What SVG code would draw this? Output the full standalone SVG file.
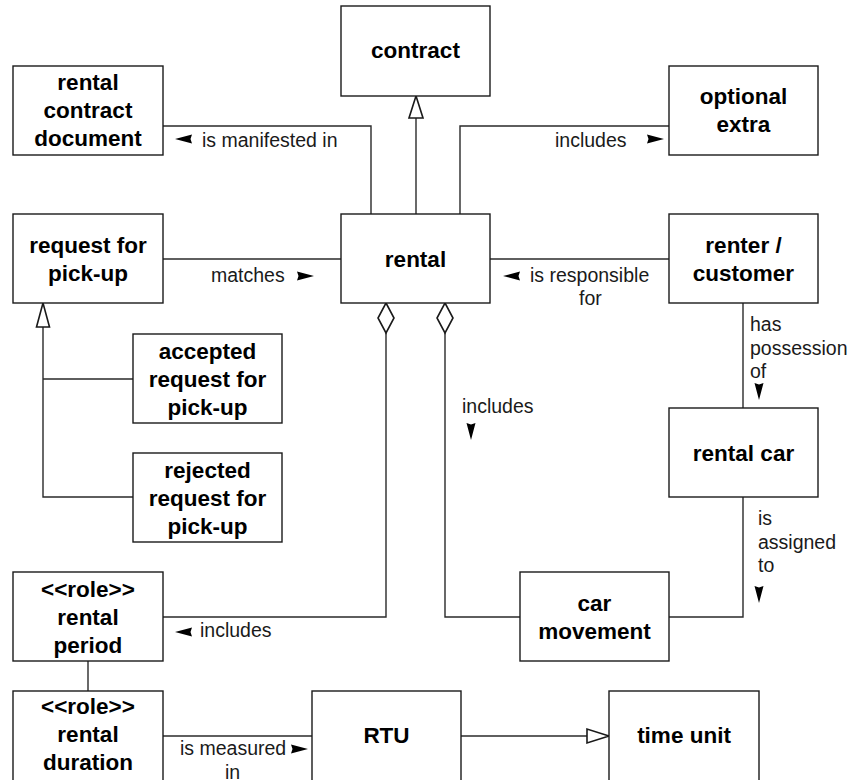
<svg xmlns="http://www.w3.org/2000/svg" width="851" height="780" viewBox="0 0 851 780">
  <style>
    .box { fill: #ffffff; stroke: #1a1a1a; stroke-width: 1.4; }
    .name { font-family: "Liberation Sans", Arial, sans-serif; font-weight: bold; font-size: 22.5px; fill: #000; text-anchor: middle; }
    .lbl { font-family: "Liberation Sans", Arial, sans-serif; font-size: 19.5px; fill: #1a1a1a; }
    .wire { fill: none; stroke: #2a2a2a; stroke-width: 1.4; }
    .hollow { fill: #ffffff; stroke: #1a1a1a; stroke-width: 1.6; }
    .dir { fill: #000; }
  </style>
  <rect width="851" height="780" fill="#ffffff"/>

  <!-- connectors -->
  <g id="connectors">
    <!-- rental is a contract -->
    <path class="wire" d="M416,214 V118"/>
    <polygon class="hollow" points="416,96 409,118 423,118"/>
    <!-- rental is manifested in document -->
    <path class="wire" d="M371,214 V126 H163"/>
    <!-- rental includes optional extra -->
    <path class="wire" d="M460,214 V126 H669"/>
    <!-- request matches rental -->
    <path class="wire" d="M163,259 H341"/>
    <!-- renter responsible for rental -->
    <path class="wire" d="M490,259 H669"/>
    <!-- renter has possession of car -->
    <path class="wire" d="M743,303 V408"/>
    <!-- request subtypes -->
    <path class="wire" d="M43,327 V497 H133 M43,379 H133"/>
    <polygon class="hollow" points="43,303 36.5,327 49.5,327"/>
    <!-- rental includes rental period -->
    <path class="wire" d="M386,333 V617 H163"/>
    <polygon class="hollow" points="386,303 394,318 386,333 378,318"/>
    <!-- rental includes car movement -->
    <path class="wire" d="M445,333 V617 H520"/>
    <polygon class="hollow" points="445,303 453,318 445,333 437,318"/>
    <!-- car assigned to movement -->
    <path class="wire" d="M743,497 V617 H669"/>
    <!-- period to duration -->
    <path class="wire" d="M88,661 V691"/>
    <!-- duration measured in RTU -->
    <path class="wire" d="M163,736 H312"/>
    <!-- RTU is a time unit -->
    <path class="wire" d="M461,736 H587"/>
    <polygon class="hollow" points="609,736 587,729 587,743"/>

    <!-- direction marks -->
    <polygon class="dir" points="175,139 192,134.5 190.5,139 192,143.5"/>
    <polygon class="dir" points="664,139 647,134.5 648.5,139 647,143.5"/>
    <polygon class="dir" points="314,276 297,271.5 298.5,276 297,280.5"/>
    <polygon class="dir" points="503,276 520,271.5 518.5,276 520,280.5"/>
    <polygon class="dir" points="759,400 754.5,383 759,384.5 763.5,383"/>
    <polygon class="dir" points="471,440 466.5,423 471,424.5 475.5,423"/>
    <polygon class="dir" points="759,603 754.5,586 759,587.5 763.5,586"/>
    <polygon class="dir" points="175,632 192,627.5 190.5,632 192,636.5"/>
    <polygon class="dir" points="308,749 291,744.5 292.5,749 291,753.5"/>

    <!-- association labels -->
    <text class="lbl" x="202" y="147">is manifested in</text>
    <text class="lbl" x="555" y="147">includes</text>
    <text class="lbl" x="211" y="282">matches</text>
    <text class="lbl" x="530" y="282">is responsible</text>
    <text class="lbl" x="590.5" y="305" text-anchor="middle">for</text>
    <text class="lbl" x="750" y="331">has</text>
    <text class="lbl" x="750" y="354.5">possession</text>
    <text class="lbl" x="750" y="378">of</text>
    <text class="lbl" x="462" y="413">includes</text>
    <text class="lbl" x="758" y="525">is</text>
    <text class="lbl" x="758" y="548.5">assigned</text>
    <text class="lbl" x="758" y="572">to</text>
    <text class="lbl" x="200" y="637">includes</text>
    <text class="lbl" x="180" y="755">is measured</text>
    <text class="lbl" x="232.5" y="779" text-anchor="middle">in</text>
  </g>

  <!-- classes -->
  <g id="contract">
    <rect class="box" x="341" y="6" width="149" height="90"/>
    <text class="name" x="415.5" y="58">contract</text>
  </g>
  <g id="rental-contract-document">
    <rect class="box" x="13" y="66" width="150" height="89"/>
    <text class="name" x="88" y="90">rental</text>
    <text class="name" x="88" y="118">contract</text>
    <text class="name" x="88" y="146">document</text>
  </g>
  <g id="optional-extra">
    <rect class="box" x="669" y="66" width="149" height="89"/>
    <text class="name" x="743.5" y="104">optional</text>
    <text class="name" x="743.5" y="132">extra</text>
  </g>
  <g id="request-for-pick-up">
    <rect class="box" x="13" y="214" width="150" height="89"/>
    <text class="name" x="88" y="252.5">request for</text>
    <text class="name" x="88" y="280.5">pick-up</text>
  </g>
  <g id="rental">
    <rect class="box" x="341" y="214" width="149" height="89"/>
    <text class="name" x="415.5" y="266.5">rental</text>
  </g>
  <g id="renter-customer">
    <rect class="box" x="669" y="214" width="149" height="89"/>
    <text class="name" x="743.5" y="252.5">renter /</text>
    <text class="name" x="743.5" y="280.5">customer</text>
  </g>
  <g id="accepted-request">
    <rect class="box" x="133" y="334" width="149" height="89"/>
    <text class="name" x="207.5" y="358.5">accepted</text>
    <text class="name" x="207.5" y="386.5">request for</text>
    <text class="name" x="207.5" y="414.5">pick-up</text>
  </g>
  <g id="rejected-request">
    <rect class="box" x="133" y="453" width="149" height="89"/>
    <text class="name" x="207.5" y="477.5">rejected</text>
    <text class="name" x="207.5" y="505.5">request for</text>
    <text class="name" x="207.5" y="533.5">pick-up</text>
  </g>
  <g id="rental-car">
    <rect class="box" x="669" y="408" width="149" height="89"/>
    <text class="name" x="743.5" y="460.5">rental car</text>
  </g>
  <g id="rental-period">
    <rect class="box" x="13" y="572" width="150" height="89"/>
    <text class="name" x="88" y="596.5">&lt;&lt;role&gt;&gt;</text>
    <text class="name" x="88" y="624.5">rental</text>
    <text class="name" x="88" y="652.5">period</text>
  </g>
  <g id="car-movement">
    <rect class="box" x="520" y="572" width="149" height="89"/>
    <text class="name" x="594.5" y="610.5">car</text>
    <text class="name" x="594.5" y="638.5">movement</text>
  </g>
  <g id="rental-duration">
    <rect class="box" x="13" y="691" width="150" height="91"/>
    <text class="name" x="88" y="714">&lt;&lt;role&gt;&gt;</text>
    <text class="name" x="88" y="742">rental</text>
    <text class="name" x="88" y="770">duration</text>
  </g>
  <g id="rtu">
    <rect class="box" x="312" y="691" width="149" height="91"/>
    <text class="name" x="386.5" y="743">RTU</text>
  </g>
  <g id="time-unit">
    <rect class="box" x="609" y="691" width="150" height="91"/>
    <text class="name" x="684" y="743">time unit</text>
  </g>
</svg>
